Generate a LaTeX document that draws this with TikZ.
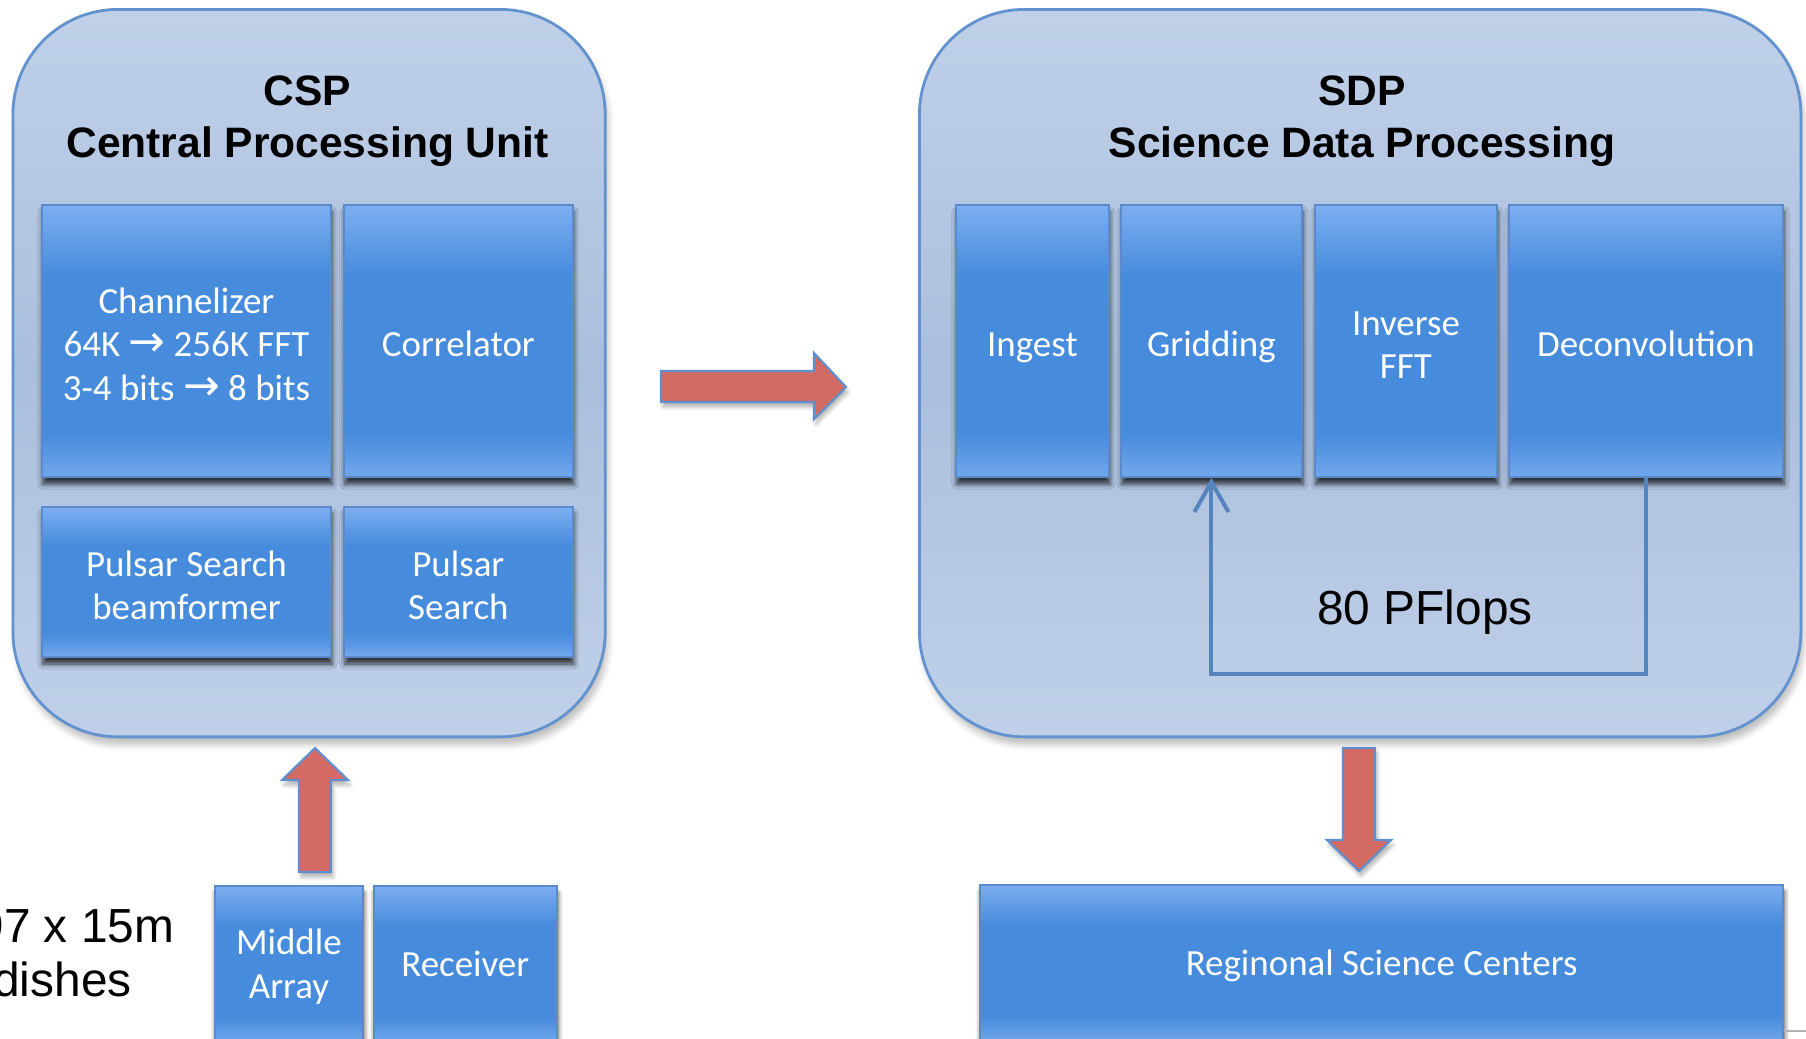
\documentclass[tikz,border=0pt]{standalone}
\usepackage{fontspec}
\usepackage{tikz}
\usetikzlibrary{positioning,shadows.blur,arrows.meta}
\setmainfont{Liberation Sans}
\newfontfamily\calibri{Carlito}
\newfontfamily\symb{DejaVu Sans}
\newcommand{\toarr}{{\symb\fontsize{12.5pt}{12.4pt}\selectfont →}}
\newcommand{\topstrut}{\rule{0pt}{0.32cm}}

\definecolor{panelhi}{HTML}{C0D0E9}
\definecolor{panello}{HTML}{AABFDC}
\definecolor{panelline}{HTML}{6393CF}
\definecolor{blockhi}{HTML}{7DAEF0}
\definecolor{blocklo}{HTML}{468BDC}
\definecolor{blockline}{HTML}{5A8ACB}
\definecolor{flowred}{HTML}{D46A64}
\definecolor{flowline}{HTML}{5F8FCF}
\definecolor{fbline}{HTML}{5684BF}

\pgfdeclareverticalshading{blockshade}{100bp}{color(0bp)=(blockhi!80!blocklo); color(25bp)=(blockhi!80!blocklo); color(33bp)=(blocklo); color(62bp)=(blocklo); color(75bp)=(blockhi); color(100bp)=(blockhi)}
\pgfdeclareverticalshading{panelshade}{100bp}{color(0bp)=(panelhi); color(25bp)=(panelhi); color(50bp)=(panello); color(75bp)=(panelhi); color(100bp)=(panelhi)}

\begin{document}
\begin{tikzpicture}[x=0.01cm,y=-0.01cm]
    \tikzstyle{panel}=[rectangle,rounded corners=1.05cm,draw=panelline,line width=0.8pt,shading=panelshade,anchor=north west,inner sep=0pt,
        blur shadow={shadow xshift=0.03cm,shadow yshift=-0.08cm,shadow blur radius=0.06cm,shadow opacity=25}]
    \tikzstyle{block}=[rectangle,draw=blockline,line width=0.5pt,shading=blockshade,text=white,align=center,inner sep=0pt,anchor=north west,
        text depth=0pt,font=\calibri\fontsize{10.5pt}{12.4pt}\selectfont,
        blur shadow={shadow xshift=0.01cm,shadow yshift=-0.07cm,shadow blur radius=0.05cm,shadow opacity=75}]
    \tikzstyle{title}=[font=\fontsize{12.1pt}{14.6pt}\selectfont\bfseries,align=center,inner sep=0pt,anchor=north]
    \tikzstyle{bigtext}=[font=\fontsize{13.6pt}{15.6pt}\selectfont,align=center,inner sep=0pt]
    \tikzstyle{flow}=[fill=flowred,draw=flowline,line width=0.6pt,
        blur shadow={shadow xshift=0.02cm,shadow yshift=-0.05cm,shadow blur radius=0.04cm,shadow opacity=30}]
    \tikzstyle{feedback}=[draw=fbline,line width=0.04cm]

    \useasboundingbox (0,0) rectangle (1806,1038);

    % CSP
    \node[panel,minimum width=5.92cm,minimum height=7.27cm] (csp) at (11.5,8) {};
    \node[title] (csptitle) at (307.5,75.5) {CSP\\Central Processing Unit};
    \node[block,minimum width=2.89cm,minimum height=2.72cm] (chan) at (41,204)
        {\topstrut Channelizer\\64K \toarr{} 256K FFT\\3-4 bits \toarr{} 8 bits};
    \node[block,minimum width=2.29cm,minimum height=2.72cm,right=0.11cm of chan] (corr) {\topstrut Correlator};
    \node[block,minimum width=2.89cm,minimum height=1.50cm] (psbf) at (41,506) {\topstrut Pulsar Search\\beamformer};
    \node[block,minimum width=2.29cm,minimum height=1.50cm,right=0.11cm of psbf] (ps) {\topstrut Pulsar\\Search};

    % SDP
    \node[panel,minimum width=8.81cm,minimum height=7.27cm] (sdp) at (918,8) {};
    \node[title] (sdptitle) at (1362,75.5) {SDP\\Science Data Processing};
    \foreach \n/\xl/\w/\t in {ingest/955/1.53/Ingest,grid/1120/1.81/Gridding,ifft/1314/1.82/{Inverse\\FFT},deconv/1508/2.74/Deconvolution} {
        \node[block,minimum width=\w cm,minimum height=2.72cm] (\n) at (\xl,204) {\topstrut\t};
    };
    \draw[feedback,-{Straight Barb[length=0.3cm,width=0.34cm]}] (deconv.south) -- ++(0,196) -| (grid.south);
    \node[bigtext,anchor=base] (pflops) at (1425,624) {80 PFlops};

    % receivers and science centres
    \node[block,minimum width=1.48cm,minimum height=1.56cm] (mid) at (214,885) {Middle\\Array};
    \node[block,minimum width=1.83cm,minimum height=1.56cm,right=0.09cm of mid] (recv) {Receiver};
    \node[bigtext,anchor=north] (dishes) at (62.5,908) {197 x 15m\\dishes};
    \node[block,minimum width=8.03cm,minimum height=1.56cm] (rsc) at (979,884) {Reginonal Science Centers};
    \draw[gray!60,line width=0.02cm] (1784,1031) -- (1806,1031);

    % big arrows
    \draw[flow] (661,371) -- (814,371) -- (814,353) -- (846,387) -- (814,419) -- (814,402) -- (661,402) -- cycle;
    \draw[flow] (299,872) -- (299,780) -- (282,780) -- (315,748) -- (348,780) -- (331,780) -- (331,872) -- cycle;
    \draw[flow] (1343,748) -- (1375,748) -- (1375,840) -- (1391,840) -- (1359,871) -- (1327,840) -- (1343,840) -- cycle;
\end{tikzpicture}
\end{document}
